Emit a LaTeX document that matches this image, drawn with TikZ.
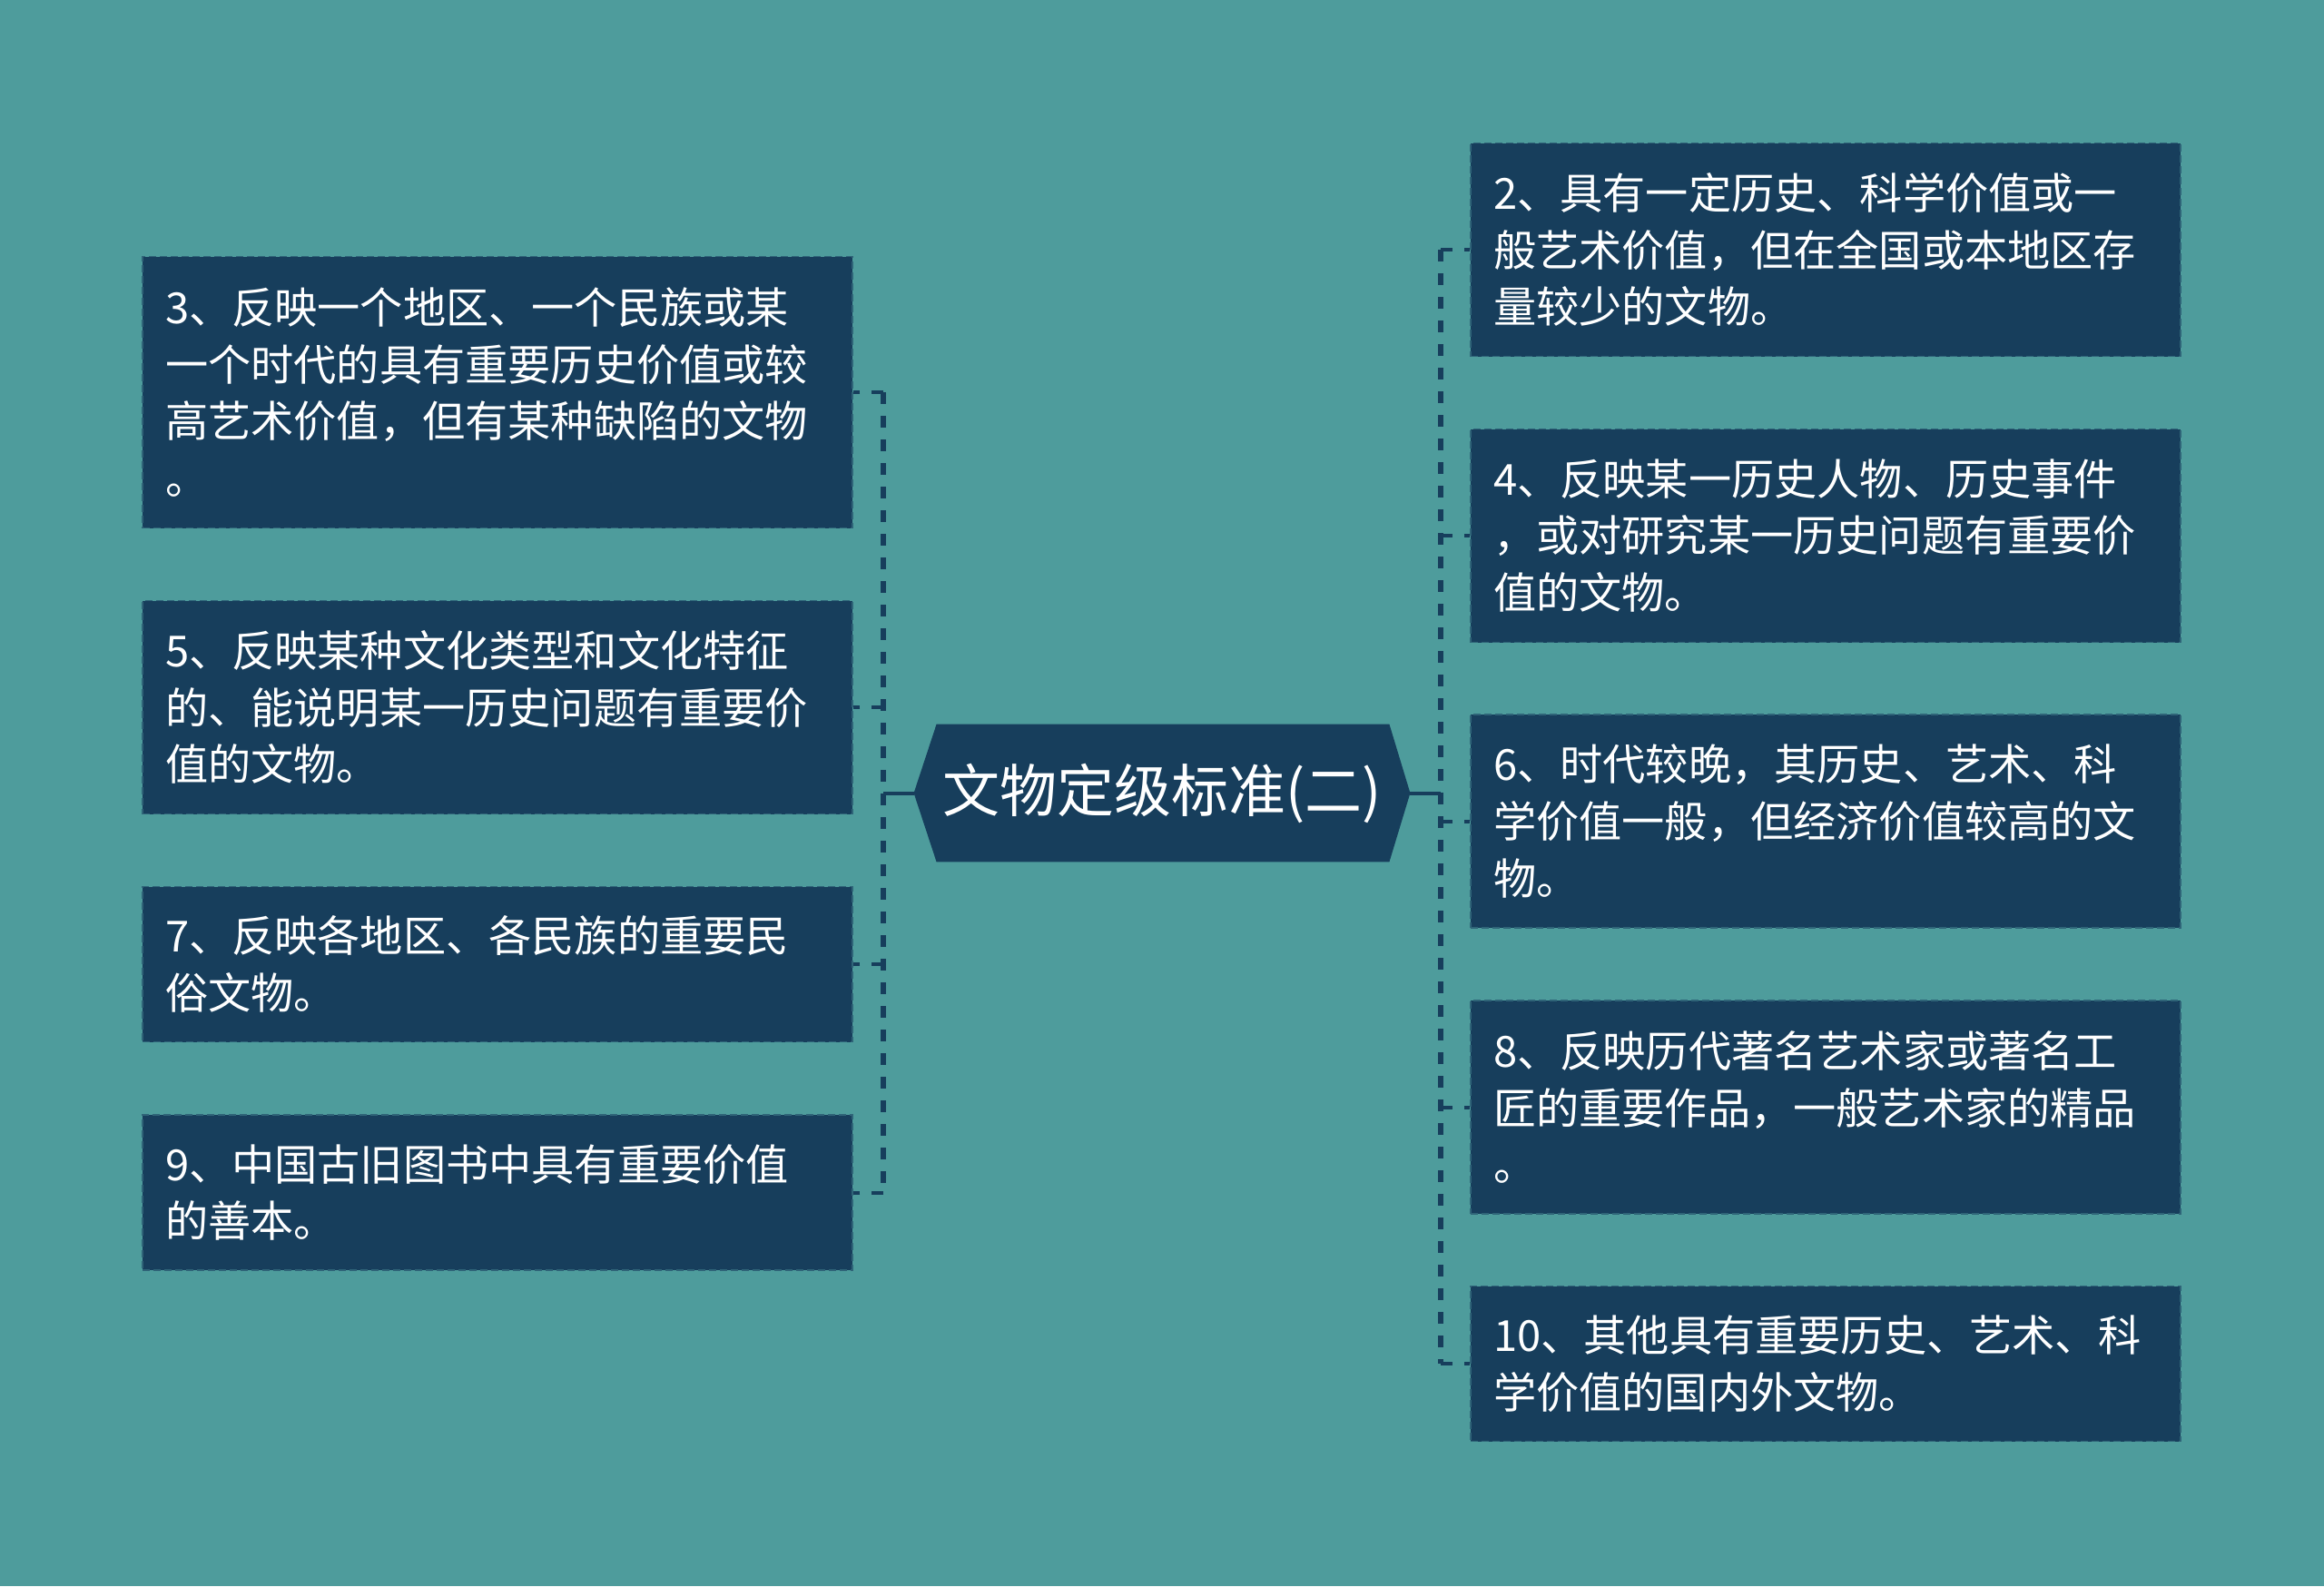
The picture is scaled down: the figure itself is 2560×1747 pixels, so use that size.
\documentclass[tikz,border=0pt]{standalone}
\usepackage{fontspec}
\setmainfont{Noto Sans CJK SC}
\usetikzlibrary{calc}
\definecolor{bgteal}{HTML}{4E9C9C}
\definecolor{boxblue}{HTML}{173E5C}
\definecolor{boxedge}{HTML}{2F6478}
\pgfdeclarelayer{bglayer}
\pgfsetlayers{bglayer,main}
\begin{document}
\begin{tikzpicture}[x=0.5pt,y=-0.5pt,
  leaf/.style={draw=boxedge, dash pattern=on 4pt off 2pt, line width=0.8pt,
    fill=boxblue, text=white, minimum width=391pt, text width=366pt,
    inner xsep=12.5pt, inner ysep=0pt, align=left,
    font=\fontsize{23.6pt}{31.4pt}\selectfont},
  h4/.style={minimum height=149.5pt},
  h3/.style={minimum height=117.5pt},
  h2/.style={minimum height=85.5pt},
  rootnode/.style={minimum width=273pt, minimum height=75.5pt, inner sep=0pt,
    text=white, font=\fontsize{31.5pt}{36pt}\selectfont},
  spine/.style={draw=boxblue, line width=2.8pt, dash pattern=on 6.5pt off 6.5pt},
  conn/.style={draw=boxblue, line width=2pt, dash pattern=on 6.5pt off 6.5pt},
  stub/.style={draw=boxblue, line width=2pt}]

\useasboundingbox (0,0) rectangle (2560,1747);

\node[rootnode] (root) at (1280,873.5) {文物定级标准(二)};

% left children
\node[leaf,h4] (c3) at (548,432) {3、反映一个地区、一个民族或某\\一个时代的具有重要历史价值或较\\高艺术价值，但有某种缺陷的文物\\。};
\node[leaf,h3] (c5) at (548,779) {5、反映某种文化类型和文化特征\\的、能说明某一历史问题有重要价\\值的文物。};
\node[leaf,h2] (c7) at (548,1062) {7、反映各地区、各民族的重要民\\俗文物。};
\node[leaf,h2] (c9) at (548,1313.5) {9、中国古旧图书中具有重要价值\\的善本。};

% right children
\node[leaf,h3] (c2) at (2011,275) {2、具有一定历史、科学价值或一\\般艺术价值，但在全国或本地区存\\量较少的文物。};
\node[leaf,h3] (c4) at (2011,590) {4、反映某一历史人物、历史事件\\，或对研究某一历史问题有重要价\\值的文物。};
\node[leaf,h3] (c6) at (2011,904.5) {6、时代较晚，其历史、艺术、科\\学价值一般，但经济价值较高的文\\物。};
\node[leaf,h3] (c8) at (2011,1219.5) {8、反映历代著名艺术家或著名工\\匠的重要作品，一般艺术家的精品\\。};
\node[leaf,h2] (c10) at (2011,1502) {10、其他具有重要历史、艺术、科\\学价值的国内外文物。};

\coordinate (sL) at (973,873.5);
\coordinate (sR) at (1587,873.5);

\draw[stub] (root.west) -- (sL);
\draw[stub] (root.east) -- (sR);

\draw[spine] (sL|-c3.east) -- (sL|-c9.east);
\foreach \n in {c3,c5,c7,c9} \draw[conn] (sL|-\n.east) -- (\n.east);

\draw[spine] (sR|-c2.west) -- (sR|-c10.west);
\foreach \n in {c2,c4,c6,c8,c10} \draw[conn] (sR|-\n.west) -- (\n.west);

\begin{pgfonlayer}{bglayer}
  \fill[bgteal] (0,0) rectangle (2560,1747);
  \fill[boxblue] (root.west) -- ($(root.north west)+(25,0)$) -- ($(root.north east)+(-23,0)$)
    -- (root.east) -- ($(root.south east)+(-23,0)$) -- ($(root.south west)+(25,0)$) -- cycle;
\end{pgfonlayer}
\end{tikzpicture}
\end{document}
